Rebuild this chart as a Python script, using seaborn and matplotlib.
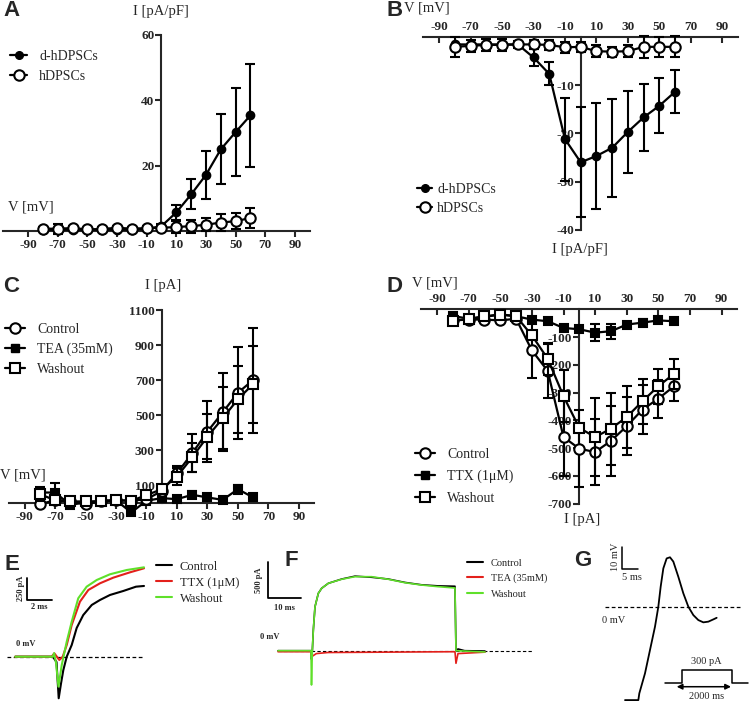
import numpy as np
import matplotlib
matplotlib.use("Agg")
import matplotlib.pyplot as plt
import seaborn as sns
from matplotlib.lines import Line2D

# ---------------- data ----------------
V = [-80, -70, -60, -50, -40, -30, -20, -10, 0, 10, 20, 30, 40, 50, 60]
x_ticks = [-90, -70, -50, -30, -10, 10, 30, 50, 70, 90]
x_ticklabels = ["-90", "-70", "-50", "-30", "-10", "10", "30", "50", "70", "90"]

# Panel A (outward current density, pA/pF)
A_labels = ["d-hDPSCs", "hDPSCs"]
A_d = [0.4, 0.4, 0.4, 0.4, 0.4, 0.4, 0.4, 0.6, 1.5, 5.7, 11.2, 17.2, 25.0, 30.3, 35.4]
A_d_err = [0, 0, 0, 0, 0, 0, 0, 0, 0.5, 2.3, 4.6, 7.4, 10.7, 13.5, 15.8]
A_h = [0.7, 0.7, 0.9, 0.5, 0.6, 1.0, 0.7, 0.9, 1.0, 1.2, 1.5, 1.9, 2.6, 3.0, 4.0]
A_h_err = [0.5, 1.5, 0.5, 0.5, 0.5, 0.5, 0.5, 0.5, 0.5, 1.8, 2.0, 2.0, 2.7, 2.5, 3.1]
A_yticks = [20, 40, 60]
A_yticklabels = ["20", "40", "60"]

# Panel B (inward current density, pA/pF)
B_d = [-1.6, -1.6, -1.6, -1.6, -1.6, -4.3, -7.7, -21.2, -26.0, -24.7, -23.0, -19.7, -16.7, -14.3, -11.4]
B_d_err = [0, 0, 0, 0, 0, 1.8, 2.4, 8.6, 11.4, 10.9, 10.1, 8.5, 6.9, 5.7, 4.5]
B_h = [-2.1, -1.9, -1.7, -1.7, -1.6, -1.6, -1.7, -2.2, -2.1, -3.0, -3.1, -3.0, -2.1, -2.1, -2.1]
B_h_err = [2.0, 1.3, 1.2, 1.2, 0.8, 1.0, 1.0, 1.2, 1.0, 1.2, 1.0, 1.2, 2.3, 2.0, 2.2]
B_yticks = [-10, -20, -30, -40]
B_yticklabels = ["-10", "-20", "-30", "-40"]

# Panel C (pA)
C_labels = ["Control", "TEA (35mM)", "Washout"]
C_ctrl = [-10, 13, 6, -10, 6, 13, 10, 19, 65, 167, 281, 405, 515, 627, 700]
C_ctrl_err = [0, 0, 0, 0, 0, 0, 0, 0, 0, 41, 108, 175, 223, 263, 300]
C_tea = [57, 57, -13, 0, 10, 13, -57, 10, 25, 19, 44, 29, 15, 76, 29]
C_tea_err = [0, 52, 0, 0, 0, 0, 0, 0, 0, 0, 19, 0, 0, 25, 0]
C_wash = [48, 13, 6, 6, 6, 13, 10, 42, 76, 148, 258, 376, 481, 590, 677]
C_wash_err = [38, 0, 0, 0, 0, 0, 0, 0, 0, 50, 83, 130, 177, 190, 220]
C_yticks = [100, 300, 500, 700, 900, 1100]
C_yticklabels = ["100", "300", "500", "700", "900", "1100"]

# Panel D (pA)
D_labels = ["Control", "TTX (1\u03bcM)", "Washout"]
D_ctrl = [-40, -37, -37, -40, -34, -148, -222, -460, -502, -514, -474, -421, -361, -322, -277]
D_ctrl_err = [0, 0, 0, 0, 0, 98, 96, 140, 139, 120, 125, 105, 89, 69, 54]
D_ttx = [-24, -34, -28, -18, -25, -37, -43, -67, -72, -84, -79, -55, -48, -40, -43]
D_ttx_err = [0, 0, 0, 0, 0, 0, 0, 8, 0, 31, 27, 10, 12, 0, 0]
D_wash = [-42, -34, -25, -19, -25, -94, -178, -313, -427, -460, -430, -388, -331, -277, -232]
D_wash_err = [0, 0, 0, 0, 0, 0, 58, 93, 0, 142, 129, 111, 81, 63, 54]
D_yticks = [-100, -200, -300, -400, -500, -600, -700]
D_yticklabels = ["-100", "-200", "-300", "-400", "-500", "-600", "-700"]

# Panel E traces (ms, pA)
E_labels = ["Control", "TTX (1\u03bcM)", "Washout"]
E_ctrl_t = [0.7, 3.8, 4.1, 4.28, 4.47, 4.66, 4.94, 5.35, 5.76, 6.30, 7.00, 7.68, 8.50, 9.60, 10.64, 11.30]
E_ctrl_i = [0, 0, -60, -466, -300, -150, 0, 131, 322, 467, 580, 636, 692, 737, 785, 793]
E_ttx_t = [0.7, 3.7, 3.92, 4.33, 4.61, 4.94, 5.35, 6.03, 6.72, 7.68, 8.77, 10.15, 11.30]
E_ttx_i = [0, 0, 38, -37, 0, 131, 355, 617, 748, 823, 886, 946, 991]
E_wash_t = [0.7, 3.8, 3.9, 4.05, 4.26, 4.53, 4.94, 5.35, 5.89, 6.58, 7.41, 8.50, 9.88, 11.30]
E_wash_i = [0, 0, 40, -60, -336, -93, 168, 392, 655, 785, 860, 924, 972, 1002]
E_dash_t = [0, 11.3]
E_bar_t = [1.70, 1.70, 3.70]
E_bar_i = [886, 636, 636]

# Panel F traces (ms, pA)
F_labels = ["Control", "TEA (35mM)", "Washout"]
F_ctrl_t = [0, 9.9, 10.05, 10.3, 10.6, 11.1, 12.1, 13.1, 15.1, 19.1, 23.1, 28.1, 33.1, 38.1, 43.1, 48.1, 53.1, 53.4, 54.0, 56.0, 62.1]
F_ctrl_i = [0, 0, -120, 0, 288, 611, 797, 867, 936, 995, 1035, 1020, 995, 948, 915, 900, 895, 0, 24, 0, -5]
F_tea_t = [0, 9.9, 10.1, 11.5, 15.0, 53.1, 53.4, 54.0, 62.1]
F_tea_i = [-14, -14, -83, -40, -25, -14, -175, -40, -20]
F_wash_t = [0, 9.9, 10.05, 10.3, 10.6, 11.1, 12.1, 13.1, 15.1, 19.1, 23.1, 28.1, 33.1, 38.1, 43.1, 48.1, 53.1, 53.4, 62.1]
F_wash_i = [0, 0, -476, 0, 288, 611, 797, 867, 936, 992, 1028, 1028, 992, 944, 912, 889, 871, 0, -18]
F_dash_t = [0, 76.4]
F_bar_t = [-3.09, -3.09, 6.91]
F_bar_i = [1228, 728, 728]

# Panel G action potential (ms, mV) and stimulus (ms, pA)
G_t = [0, 4.0, 4.3, 6.0, 7.5, 9.0, 10.0, 10.7, 11.5, 12.5, 13.5, 14.5, 16.0, 17.5, 19.0, 20.5, 22.0, 23.5, 25.0, 26.5, 27.5]
G_v = [-41.2, -41.2, -38.2, -29.4, -19.1, -8.8, 0, 8.8, 16.9, 21.3, 21.8, 19.9, 13.2, 5.9, 0, -3.7, -5.9, -6.9, -6.6, -5.6, -4.9]
G_dash_t = [-6.0, 35.0]
G_bar_t = [-1.0, -1.0, 4.0]
G_bar_v = [26.5, 16.5, 16.5]
G_step_t = [-667, 0, 0, 2000, 2000, 2667]
G_step_i = [0, 0, 300, 300, 0, 0]

# ---------------- style ----------------
sns.set_style("ticks")
plt.rcParams["font.family"] = ["Liberation Serif", "DejaVu Serif"]
plt.rcParams["axes.linewidth"] = 1.5

W, H = 750, 703
fig = plt.figure(figsize=(7.5, 7.03), dpi=100)
fig.patch.set_facecolor("white")

GREEN = "#5fe02a"
RED = "#e3201b"


def px_axes(xorg, xscale, xlim, yorg, yscale, ylim):
    left = xorg + xlim[0] * xscale
    right = xorg + xlim[1] * xscale
    top = yorg - ylim[1] * yscale
    bottom = yorg - ylim[0] * yscale
    ax = fig.add_axes([left / W, 1 - bottom / H, (right - left) / W, (bottom - top) / H])
    ax.set_xlim(*xlim)
    ax.set_ylim(*ylim)
    ax.set_facecolor("none")
    return ax


def style_iv(ax, top, ybounds, yticks, yticklabels):
    ax.spines["right"].set_visible(False)
    ax.spines["left"].set_position(("data", 0))
    ax.spines["left"].set_bounds(*ybounds)
    if top:
        ax.spines["bottom"].set_visible(False)
        ax.spines["top"].set_position(("data", 0))
        ax.xaxis.set_ticks_position("top")
        ax.tick_params(axis="x", direction="in", length=4, width=1.5, pad=3, top=True, bottom=False,
                       labeltop=True, labelbottom=False)
    else:
        ax.spines["top"].set_visible(False)
        ax.spines["bottom"].set_position(("data", 0))
        ax.xaxis.set_ticks_position("bottom")
        ax.tick_params(axis="x", direction="out", length=4, width=1.5, pad=2)
    ax.set_xticks(x_ticks, x_ticklabels, fontweight="bold", fontsize=9.5)
    ax.set_yticks(yticks, yticklabels, fontweight="bold", fontsize=9.5)
    ax.tick_params(axis="y", direction="out", length=4, width=1.5, pad=1, left=True)
    ax.set_xlabel("")
    ax.set_ylabel("")


def iv_series(ax, y, err, marker, ms, filled, z):
    x = np.array(V, dtype=float)
    y = np.array(y, dtype=float)
    e = np.array(err, dtype=float)
    m = e > 0
    ax.errorbar(x[m], y[m], yerr=e[m], fmt="none", ecolor="k", elinewidth=1.5,
                capsize=3.6, capthick=1.5, zorder=z, clip_on=False)
    sns.lineplot(x=x, y=y, ax=ax, color="k", lw=1.6, marker=marker, markersize=ms,
                 markerfacecolor="k" if filled else "white", markeredgecolor="k",
                 markeredgewidth=1.5, zorder=z + 0.5, clip_on=False,
                 estimator=None, sort=False)


def ftext(x, y, s, **kw):
    fig.text(x / W, 1 - y / H, s, **kw)


def legend_px(ax, handles, labels, hx0, hx1, tx, row0, pitch, fs):
    fspx = fs * 100 / 72
    ls = pitch / fspx - 0.95
    top = row0 - 0.36 * fspx
    leg = ax.legend(handles, labels, loc="upper left",
                    bbox_to_anchor=(hx0 / W, 1 - top / H), bbox_transform=fig.transFigure,
                    frameon=False, borderpad=0, borderaxespad=0,
                    handlelength=(hx1 - hx0) / fspx, handletextpad=(tx - hx1) / fspx,
                    labelspacing=ls, prop={"family": "Liberation Serif", "size": fs})
    return leg


LETTER = dict(fontsize=16, fontweight="bold", family="Liberation Sans", ha="left", va="center")
TITLE = dict(fontsize=10.5, family="Liberation Serif")

# ---------------- Panel A ----------------
axA = px_axes(161.5, 1.483, (-107, 100), 231, 3.267, (-4, 62))
iv_series(axA, A_d, A_d_err, "o", 5.5, True, 3)
iv_series(axA, A_h, A_h_err, "o", 7.5, False, 5)
style_iv(axA, False, (0, 60), A_yticks, A_yticklabels)
hA = [Line2D([], [], color="k", lw=1.6, marker="o", ms=5.5),
      Line2D([], [], color="k", lw=1.6, marker="o", ms=7.5, mfc="white", mew=1.5)]
legend_px(axA, hA, A_labels, 10, 27, 39, 55, 20, 10)
ftext(3, 11, "A", **LETTER)
ftext(161, 11, "I [pA/pF]", ha="center", va="center", **TITLE)
ftext(8, 207, "V [mV]", ha="left", va="center", **TITLE)

# ---------------- Panel B ----------------
axB = px_axes(580.7, 1.573, (-100, 100), 36.7, 4.83, (-41, 2))
iv_series(axB, B_d, B_d_err, "o", 5.5, True, 3)
iv_series(axB, B_h, B_h_err, "o", 7.5, False, 5)
style_iv(axB, True, (-40, 0), B_yticks, B_yticklabels)
legend_px(axB, hA, A_labels, 417, 432, 437, 188, 19, 10)
ftext(386, 11, "B", **LETTER)
ftext(404, 8, "V [mV]", ha="left", va="center", **TITLE)
ftext(580, 249, "I [pA/pF]", ha="center", va="center", **TITLE)

# ---------------- Panel C ----------------
axC = px_axes(161.7, 1.524, (-100, 100), 502.5, 0.175, (-80, 1130))
iv_series(axC, C_tea, C_tea_err, "s", 5.8, True, 3)
iv_series(axC, C_ctrl, C_ctrl_err, "o", 7.5, False, 5)
iv_series(axC, C_wash, C_wash_err, "s", 7.5, False, 7)
style_iv(axC, False, (0, 1100), C_yticks, C_yticklabels)
hC = [Line2D([], [], color="k", lw=1.6, marker="o", ms=7.5, mfc="white", mew=1.5),
      Line2D([], [], color="k", lw=1.6, marker="s", ms=5.8),
      Line2D([], [], color="k", lw=1.6, marker="s", ms=7.5, mfc="white", mew=1.5)]
legend_px(axC, hC, C_labels, 5, 25, 37, 328, 20, 10)
ftext(3, 286, "C", **LETTER)
ftext(163, 285, "I [pA]", ha="center", va="center", **TITLE)
ftext(0, 475, "V [mV]", ha="left", va="center", **TITLE)

# ---------------- Panel D ----------------
axD = px_axes(579.3, 1.58, (-100, 100), 309.3, 0.2777, (-705, 15))
iv_series(axD, D_ttx, D_ttx_err, "s", 5.8, True, 3)
iv_series(axD, D_ctrl, D_ctrl_err, "o", 7.5, False, 5)
iv_series(axD, D_wash, D_wash_err, "s", 7.5, False, 7)
style_iv(axD, True, (-700, 0), D_yticks, D_yticklabels)
legend_px(axD, hC, D_labels, 415, 435, 447, 453, 22, 10)
ftext(387, 286, "D", **LETTER)
ftext(412, 283, "V [mV]", ha="left", va="center", **TITLE)
ftext(582, 520, "I [pA]", ha="center", va="center", **TITLE)

# ---------------- Panel E ----------------
axE = px_axes(6.7, 12.15, (-0.55, 11.8), 656.7, 0.0892, (-541, 1140))
axE.axis("off")
axE.plot(E_dash_t, [0, 0], color="k", lw=0.9, ls=(0, (3, 2)), zorder=1)
sns.lineplot(x=E_ctrl_t, y=E_ctrl_i, ax=axE, color="k", lw=1.5, estimator=None, sort=False, zorder=2)
sns.lineplot(x=E_ttx_t, y=E_ttx_i, ax=axE, color=RED, lw=1.5, estimator=None, sort=False, zorder=3)
sns.lineplot(x=E_wash_t, y=E_wash_i, ax=axE, color=GREEN, lw=1.5, estimator=None, sort=False, zorder=4)
axE.plot(E_bar_t, E_bar_i, color="k", lw=1.3)
axE.text(1.15, 761, "250 pA", rotation=90, ha="center", va="center", fontsize=6, fontweight="bold")
axE.text(2.70, 557, "2 ms", ha="center", va="center", fontsize=6, fontweight="bold")
axE.text(1.55, 142, "0 mV", ha="center", va="center", fontsize=6, fontweight="bold")
hE = [Line2D([], [], color=c, lw=1.5) for c in ["k", RED, GREEN]]
legend_px(axE, hE, E_labels, 156, 172, 180, 565, 16, 9)
ftext(4, 564, "E", **LETTER)

# ---------------- Panel F ----------------
axF = px_axes(278, 3.333, (-6.9, 81.6), 650.7, 0.072, (-685, 1537))
axF.axis("off")
axF.plot(F_dash_t, [0, 0], color="k", lw=0.8, ls=(0, (3, 2)), zorder=1)
sns.lineplot(x=F_ctrl_t, y=F_ctrl_i, ax=axF, color="k", lw=1.2, estimator=None, sort=False, zorder=2)
sns.lineplot(x=F_tea_t, y=F_tea_i, ax=axF, color=RED, lw=1.2, estimator=None, sort=False, zorder=3)
sns.lineplot(x=F_wash_t, y=F_wash_i, ax=axF, color=GREEN, lw=1.2, estimator=None, sort=False, zorder=4)
axF.plot(F_bar_t, F_bar_i, color="k", lw=1.3)
axF.text(-5.7, 979, "500 pA", rotation=90, ha="center", va="center", fontsize=6, fontweight="bold")
axF.text(1.8, 593, "10 ms", ha="center", va="center", fontsize=6, fontweight="bold")
axF.text(-2.4, 190, "0 mV", ha="center", va="center", fontsize=6, fontweight="bold")
legend_px(axF, hE, F_labels, 467, 483, 491, 562, 16, 7.5)
ftext(285, 561, "F", **LETTER)

# ---------------- Panel G ----------------
axG = px_axes(625, 3.333, (-9, 37.5), 606.7, 2.267, (-43.4, 29.4))
axG.axis("off")
axG.plot(G_dash_t, [0, 0], color="k", lw=0.9, ls=(0, (3, 2)), zorder=1)
sns.lineplot(x=G_t, y=G_v, ax=axG, color="k", lw=1.3, estimator=None, sort=False, zorder=2)
axG.plot(G_bar_t, G_bar_v, color="k", lw=1.1)
axG.text(-3.0, 21.9, "10 mV", rotation=90, ha="center", va="center", fontsize=7.5)
axG.text(2.1, 12.7, "5 ms", ha="center", va="center", fontsize=7.5)
axG.text(-3.3, -5.9, "0 mV", ha="center", va="center", fontsize=7.5)
ftext(574, 561, "G", **LETTER)

axS = px_axes(681.7, 0.025, (-868, 2732), 683.3, 0.0444, (-488, 749))
axS.axis("off")
sns.lineplot(x=G_step_t, y=G_step_i, ax=axS, color="k", lw=1.1, estimator=None, sort=False)
axS.annotate("", xy=(1972, -77), xytext=(-200, -77),
             arrowprops=dict(arrowstyle="<|-|>", color="k", lw=1.1, mutation_scale=8,
                             shrinkA=0, shrinkB=0))
axS.text(1000, 486, "300 pA", ha="center", va="center", fontsize=7.5)
axS.text(1000, -302, "2000 ms", ha="center", va="center", fontsize=7.5)

fig.savefig("out.png", dpi=100, facecolor="white")
